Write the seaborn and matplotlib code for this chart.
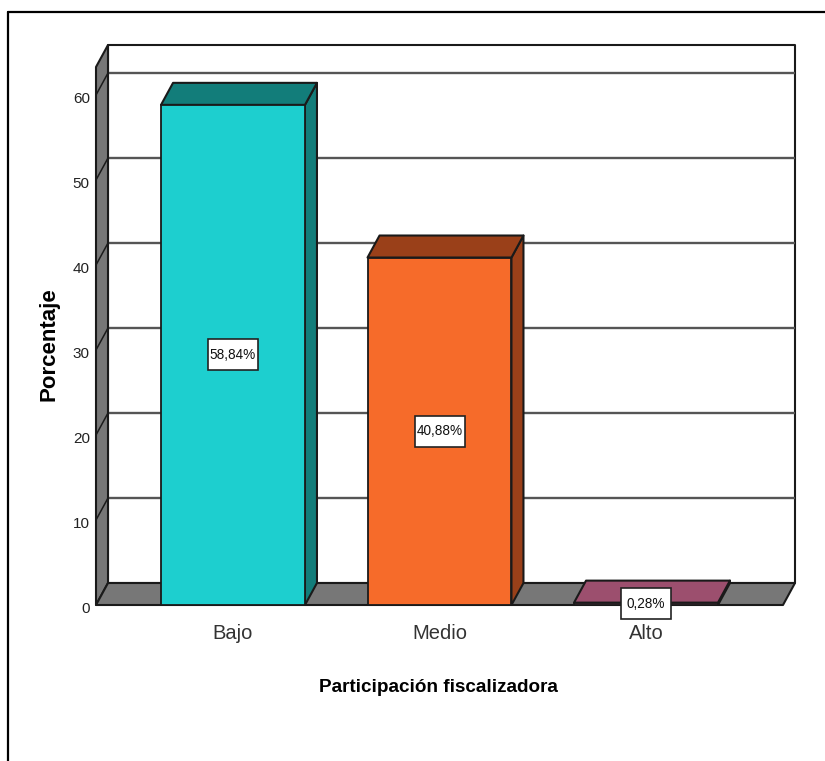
import matplotlib
matplotlib.use('Agg')
import matplotlib.pyplot as plt
from matplotlib.lines import Line2D
from matplotlib.patches import Polygon, Rectangle
from matplotlib.transforms import ScaledTranslation
import seaborn as sns

categories = ['Bajo', 'Medio', 'Alto']
percentages = [58.84, 40.88, 0.28]
value_labels = ['58,84%', '40,88%', '0,28%']
y_ticks = [0, 10, 20, 30, 40, 50, 60]
xlabel = 'Participación fiscalizadora'
ylabel = 'Porcentaje'

front_colors = ['#1dcfcf', '#f66b2a', '#9c4f6e']
dark_colors = ['#127d7a', '#9a4019', '#9c4f6e']
wall_gray = '#777777'
line_dark = '#1a1a1a'

sns.set_theme(style='white')
plt.rcParams['font.family'] = ['Liberation Sans', 'DejaVu Sans']

W, H = 825, 761
fig = plt.figure(figsize=(W / 100, H / 100), dpi=100, facecolor='white')

# everything is laid out in reference pixels, axes span the whole 3d box
left, right, top, bottom = 96, 795, 45, 605
ax = fig.add_axes([left / W, 1 - bottom / H, (right - left) / W, (bottom - top) / H])

px_x = 206.5  # pixels per category
px_y = 8.5  # pixels per percent
ax_xmin = (left - 233) / px_x
ax_xmax = (right - 233) / px_x
ax_ymax = (bottom - top) / px_y
dx = 12 / px_x  # depth offset
dy = 22 / px_y

sns.barplot(x=categories, y=percentages, hue=categories, palette=front_colors, legend=False,
            width=0.697, saturation=1, edgecolor=line_dark, linewidth=1.3, ax=ax, zorder=5)
ax.set_xlim(ax_xmin, ax_xmax)
ax.set_ylim(0, ax_ymax)
ax.patch.set_alpha(0)
for spine in ax.spines.values():
    spine.set_visible(False)


def face(points, color, z):
    ax.add_patch(Polygon(points, closed=True, facecolor=color, edgecolor=line_dark,
                         linewidth=1.5, zorder=z, clip_on=False, joinstyle='round'))


# back wall outline, left wall and floor
x_back = ax_xmin + dx
face([(x_back, dy), (ax_xmax, dy), (ax_xmax, ax_ymax), (x_back, ax_ymax)], 'white', 1)
face([(ax_xmin, 0), (x_back, dy), (x_back, ax_ymax), (ax_xmin, ax_ymax - dy)], wall_gray, 2)
face([(ax_xmin, 0), (ax_xmax - dx, 0), (ax_xmax, dy), (x_back, dy)], wall_gray, 2)

for v in y_ticks[1:]:
    ax.plot([x_back, ax_xmax], [v + dy, v + dy], color='#555555', lw=1.7, zorder=1.5,
            solid_capstyle='butt')
    ax.plot([ax_xmin, x_back], [v, v + dy], color=line_dark, lw=1.1, zorder=3)

# top and side of each bar, then the value box in the middle of the front
box_w = 50 / px_x
box_h = 31 / px_y
for bar, dark, lab in zip(ax.patches, dark_colors, value_labels):
    x0, x1 = bar.get_x(), bar.get_x() + bar.get_width()
    h = bar.get_height()
    face([(x1, 0), (x1 + dx, dy), (x1 + dx, h + dy), (x1, h)], dark, 4)
    face([(x0, h), (x1, h), (x1 + dx, h + dy), (x0 + dx, h + dy)], dark, 4)
    bar.set_zorder(5)
    xc = (x0 + x1) / 2
    ax.add_patch(Rectangle((xc - box_w / 2, h / 2 - box_h / 2), box_w, box_h, facecolor='white',
                           edgecolor='#222222', linewidth=1.2, zorder=7, clip_on=False))
    ax.text(xc, h / 2, lab, ha='center', va='center', fontsize=9.8, color='#111111', zorder=8,
            clip_on=False)

ax.set_yticks(y_ticks)
ax.set_yticklabels([str(v) for v in y_ticks], fontsize=11, color='#222222')
ax.tick_params(axis='y', length=0, pad=4.5)
ax.tick_params(axis='x', length=0, pad=14, labelsize=14.5, labelcolor='#333333')
shift = ScaledTranslation(0, 2.5 / 72, fig.dpi_scale_trans)
for t in ax.get_yticklabels():
    t.set_verticalalignment('top')
    t.set_transform(t.get_transform() + shift)

ax.set_xlabel(xlabel, fontsize=13.6, fontweight='bold', color='black')
ax.xaxis.set_label_coords((438 - left) / (right - left), -(688 - bottom) / (bottom - top))
ax.xaxis.label.set_verticalalignment('center')
ax.set_ylabel(ylabel, fontsize=16, fontweight='bold', color='black')
ax.yaxis.set_label_coords((49 - left) / (right - left), (bottom - 344) / (bottom - top))
ax.yaxis.label.set_verticalalignment('center')

# outer chart frame, only top and left are inside the crop
fig.add_artist(Line2D([8 / W, 8 / W], [0, 1 - 12 / H], color='black', lw=1.6))
fig.add_artist(Line2D([8 / W, 1], [1 - 12 / H, 1 - 12 / H], color='black', lw=1.6))

fig.savefig('out.png', dpi=100)
